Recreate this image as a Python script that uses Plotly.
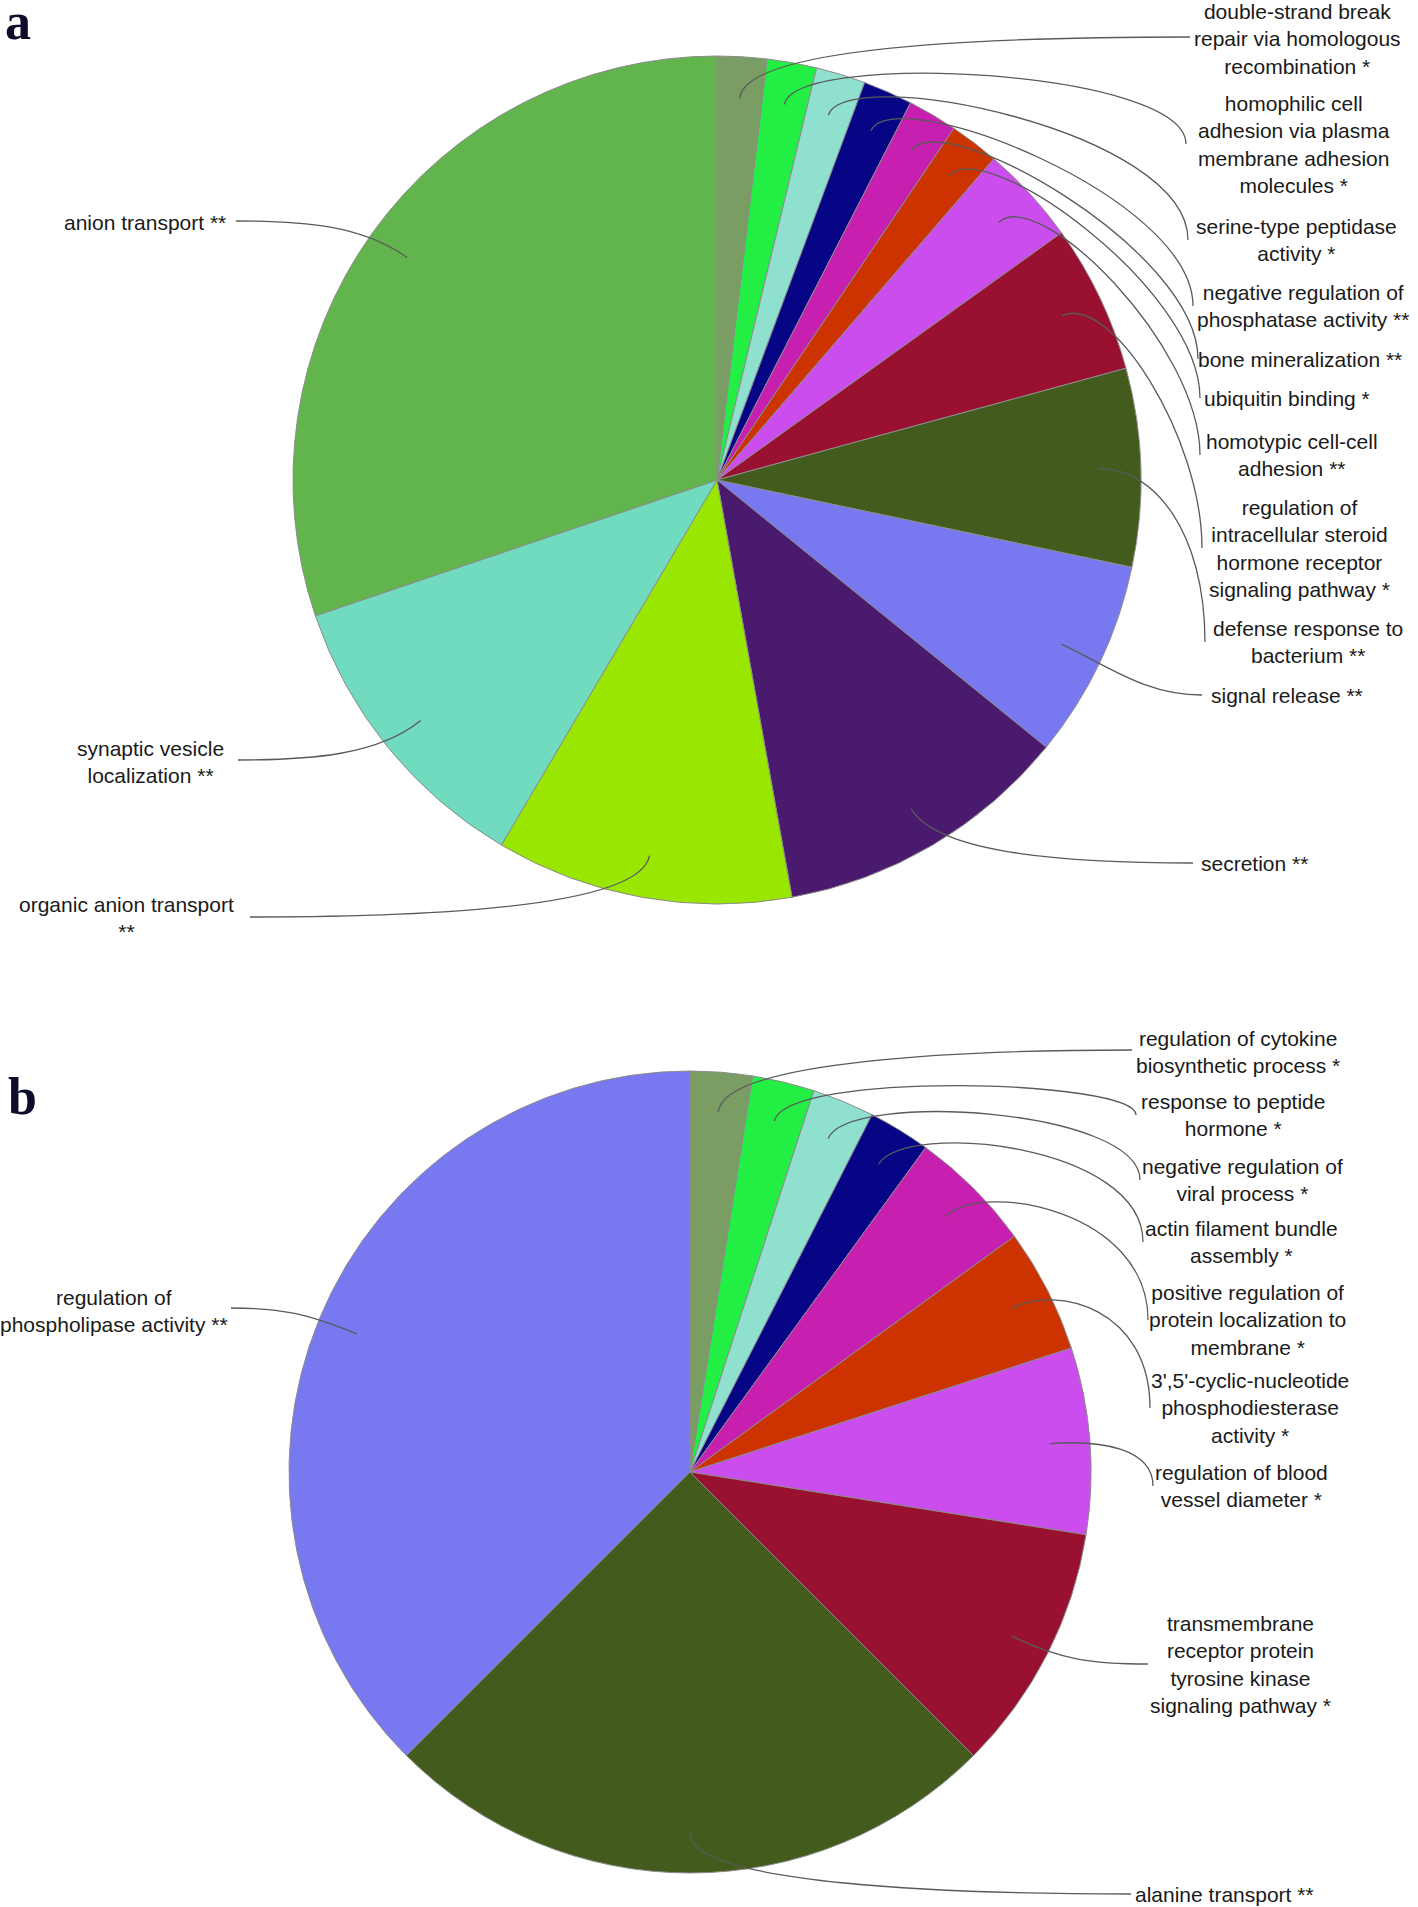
import math
import plotly.graph_objects as go

W, H = 1418, 1907

# ---------------- data ----------------
a_labels = [
    "double-strand break\nrepair via homologous\nrecombination *",
    "homophilic cell\nadhesion via plasma\nmembrane adhesion\nmolecules *",
    "serine-type peptidase\nactivity *",
    "negative regulation of\nphosphatase activity **",
    "bone mineralization **",
    "ubiquitin binding *",
    "homotypic cell-cell\nadhesion **",
    "regulation of\nintracellular steroid\nhormone receptor\nsignaling pathway *",
    "defense response to\nbacterium **",
    "signal release **",
    "secretion **",
    "organic anion transport\n**",
    "synaptic vesicle\nlocalization **",
    "anion transport **",
]
a_counts = [1, 1, 1, 1, 1, 1, 2, 3, 4, 4, 6, 6, 6, 16]

b_labels = [
    "regulation of cytokine\nbiosynthetic process *",
    "response to peptide\nhormone *",
    "negative regulation of\nviral process *",
    "actin filament bundle\nassembly *",
    "positive regulation of\nprotein localization to\nmembrane *",
    "3',5'-cyclic-nucleotide\nphosphodiesterase\nactivity *",
    "regulation of blood\nvessel diameter *",
    "transmembrane\nreceptor protein\ntyrosine kinase\nsignaling pathway *",
    "alanine transport **",
    "regulation of\nphospholipase activity **",
]
b_counts = [1, 1, 1, 1, 2, 2, 3, 4, 10, 15]

# ---------------- styles ----------------
a_colors = ["#7a9d63", "#22ee44", "#8fe0cf", "#050585", "#c71faf", "#cc3300",
            "#cc4dee", "#9a1030", "#445b1e", "#7878f0", "#4a1a6e", "#99e600",
            "#70dbbf", "#62b44c"]
b_colors = ["#7a9d63", "#22ee44", "#8fe0cf", "#050585", "#c71faf", "#cc3300",
            "#cc4dee", "#9a1030", "#445b1e", "#7878f0"]

# pie geometry (pixels)
A_CX, A_CY, A_R = 717, 480, 424
B_CX, B_CY, B_R = 690, 1472, 401

# label layout (pixel centres of the text blocks) and leader end points
a_text_pos = [(1297, 39), (1294, 144), (1296, 240), (1303, 306), (1300, 359),
              (1287, 398), (1292, 455), (1299, 548), (1308, 642), (1287, 695),
              (1254, 863), (126, 918), (150, 762), (145, 222)]
a_line_end = [(1190, 37, "h"), (1186, 144, "v"), (1188, 240, "v"), (1193, 306, "v"),
              (1198, 359, "v"), (1200, 398, "v"), (1200, 455, "v"), (1202, 548, "v"),
              (1205, 642, "v"), (1202, 695, "h"), (1193, 863, "h"), (250, 917, "h"),
              (238, 760, "h"), (236, 221, "h")]

b_text_pos = [(1238, 1052), (1233, 1115), (1242, 1180), (1241, 1242), (1247, 1320),
              (1250, 1408), (1241, 1486), (1240, 1664), (1224, 1894), (114, 1311)]
b_line_end = [(1132, 1050, "h"), (1136, 1115, "v"), (1140, 1180, "v"), (1143, 1242, "v"),
              (1148, 1320, "v"), (1150, 1408, "v"), (1153, 1486, "v"), (1148, 1664, "h"),
              (1131, 1894, "h"), (231, 1308, "h")]


def px(x):
    return x / W


def py(y):
    return 1 - y / H


def domain(cx, cy, r):
    return dict(x=[px(cx - r), px(cx + r)], y=[py(cy + r), py(cy - r)])


fig = go.Figure()
for labels, counts, colors, (cx, cy, r) in [
    (a_labels, a_counts, a_colors, (A_CX, A_CY, A_R)),
    (b_labels, b_counts, b_colors, (B_CX, B_CY, B_R)),
]:
    fig.add_trace(go.Pie(
        labels=[l.replace("\n", " ") for l in labels],
        values=counts,
        sort=False,
        direction="clockwise",
        rotation=0,
        textinfo="none",
        hoverinfo="label+value",
        marker=dict(colors=colors, line=dict(color="#8c8c8c", width=1)),
        domain=domain(cx, cy, r),
        showlegend=False,
    ))

shapes = []
annotations = []


def add_leaders(labels, counts, cx, cy, r, text_pos, line_end):
    total = sum(counts)
    cum = 0
    for lab, c, (tx, ty), (ex, ey, mode) in zip(labels, counts, text_pos, line_end):
        mid = (cum + c / 2) / total * 2 * math.pi
        cum += c
        ux, uy = math.sin(mid), -math.cos(mid)
        p0 = (cx + 0.9 * r * ux, cy + 0.9 * r * uy)
        a = 0.13 * r
        p1 = (p0[0] + a * ux, p0[1] + a * uy)
        if mode == "v":
            b = min(max(0.8 * (ey - p1[1]), 30), 110)
            p2 = (ex, ey - b)
        else:
            p2 = (ex - 0.4 * (ex - p0[0]), ey)
        path = "M {:.5f},{:.5f} C {:.5f},{:.5f} {:.5f},{:.5f} {:.5f},{:.5f}".format(
            px(p0[0]), py(p0[1]), px(p1[0]), py(p1[1]),
            px(p2[0]), py(p2[1]), px(ex), py(ey))
        shapes.append(dict(type="path", path=path, xref="paper", yref="paper",
                           line=dict(color="#5a5a5a", width=1.3)))
        annotations.append(dict(
            text=lab.replace("\n", "<br>"), x=px(tx), y=py(ty),
            xref="paper", yref="paper", xanchor="center", yanchor="middle",
            align="center", showarrow=False,
            font=dict(family="Liberation Sans, Arial, sans-serif", size=21, color="#1a1a1a"),
        ))


add_leaders(a_labels, a_counts, A_CX, A_CY, A_R, a_text_pos, a_line_end)
add_leaders(b_labels, b_counts, B_CX, B_CY, B_R, b_text_pos, b_line_end)

for letter, (lx, ly) in [("a", (18, 22)), ("b", (22, 1096))]:
    annotations.append(dict(
        text="<b>" + letter + "</b>", x=px(lx), y=py(ly), xref="paper", yref="paper",
        xanchor="center", yanchor="middle", showarrow=False,
        font=dict(family="Liberation Serif, Times New Roman, serif", size=52, color="#0d0d2b"),
    ))

fig.update_layout(
    width=W, height=H,
    margin=dict(l=0, r=0, t=0, b=0),
    paper_bgcolor="white", plot_bgcolor="white",
    shapes=shapes, annotations=annotations,
)

fig.write_html("out.html",
               config={"displayModeBar": False},
               post_script="document.body.style.margin='0px';document.body.style.padding='0px';")
